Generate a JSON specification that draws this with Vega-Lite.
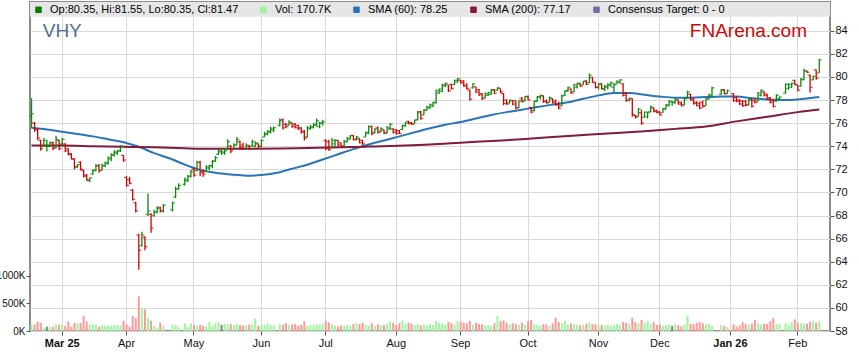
{
"$schema": "https://vega.github.io/schema/vega-lite/v6.json",
"width": 800, "height": 329,
"autosize": {"type": "none"},
"padding": {"left": 30, "top": 2, "right": 29, "bottom": 32},
"background": "#ffffff",
"config": {"font": "Liberation Sans", "view": {"stroke": "#8c8c8c", "strokeWidth": 2}, "axis": {"labelOverlap": false}},
"datasets": {
"px": [
{"d":"2025-02-17","o":76.6,"h":78.15,"l":75.55,"c":76.8,"v":115},
{"d":"2025-02-18","o":76.0,"h":76.1,"l":75.25,"c":75.4,"v":120},
{"d":"2025-02-19","o":75.5,"h":75.55,"l":74.55,"c":74.7,"v":170},
{"d":"2025-02-20","o":74.5,"h":74.55,"l":73.6,"c":73.8,"v":150},
{"d":"2025-02-21","o":74.0,"h":74.7,"l":73.95,"c":74.5,"v":65},
{"d":"2025-02-24","o":74.0,"h":74.55,"l":73.55,"c":74.0,"v":78},
{"d":"2025-02-25","o":74.0,"h":74.4,"l":73.9,"c":74.3,"v":78},
{"d":"2025-02-26","o":74.3,"h":74.4,"l":73.65,"c":73.8,"v":70},
{"d":"2025-02-27","o":73.9,"h":74.9,"l":73.8,"c":74.6,"v":115},
{"d":"2025-02-28","o":74.5,"h":74.55,"l":73.65,"c":73.8,"v":115},
{"d":"2025-03-03","o":74.2,"h":74.7,"l":74.1,"c":74.6,"v":115},
{"d":"2025-03-04","o":74.2,"h":74.25,"l":73.5,"c":73.6,"v":95},
{"d":"2025-03-05","o":73.8,"h":73.8,"l":73.2,"c":73.3,"v":170},
{"d":"2025-03-06","o":73.35,"h":73.4,"l":72.85,"c":72.9,"v":75},
{"d":"2025-03-07","o":72.9,"h":72.95,"l":72.0,"c":72.2,"v":140},
{"d":"2025-03-10","o":72.2,"h":72.45,"l":72.15,"c":72.4,"v":140},
{"d":"2025-03-11","o":72.6,"h":72.7,"l":71.9,"c":72.0,"v":145},
{"d":"2025-03-12","o":71.9,"h":71.95,"l":71.3,"c":71.4,"v":275},
{"d":"2025-03-13","o":71.5,"h":71.6,"l":71.0,"c":71.1,"v":170},
{"d":"2025-03-14","o":71.0,"h":71.3,"l":70.9,"c":71.25,"v":120},
{"d":"2025-03-17","o":71.6,"h":72.0,"l":71.5,"c":71.9,"v":115},
{"d":"2025-03-18","o":71.9,"h":72.45,"l":71.8,"c":72.3,"v":110},
{"d":"2025-03-19","o":72.3,"h":72.45,"l":71.7,"c":71.9,"v":78},
{"d":"2025-03-20","o":71.9,"h":72.5,"l":71.9,"c":72.3,"v":100},
{"d":"2025-03-21","o":72.3,"h":72.65,"l":72.2,"c":72.6,"v":90},
{"d":"2025-03-24","o":72.5,"h":73.1,"l":72.4,"c":73.0,"v":100},
{"d":"2025-03-25","o":72.9,"h":73.4,"l":72.7,"c":73.3,"v":100},
{"d":"2025-03-26","o":73.2,"h":73.65,"l":73.1,"c":73.5,"v":105},
{"d":"2025-03-27","o":73.4,"h":73.65,"l":73.25,"c":73.6,"v":110},
{"d":"2025-03-28","o":73.6,"h":74.1,"l":73.5,"c":74.0,"v":100},
{"d":"2025-03-31","o":73.2,"h":73.25,"l":72.65,"c":72.8,"v":185},
{"d":"2025-04-01","o":71.3,"h":71.4,"l":70.5,"c":70.6,"v":120},
{"d":"2025-04-02","o":71.1,"h":71.35,"l":70.7,"c":70.8,"v":80},
{"d":"2025-04-03","o":70.2,"h":70.3,"l":69.3,"c":69.4,"v":275},
{"d":"2025-04-04","o":69.1,"h":69.2,"l":68.25,"c":68.4,"v":230},
{"d":"2025-04-07","o":66.3,"h":66.45,"l":63.3,"c":65.0,"v":625},
{"d":"2025-04-08","o":65.4,"h":66.6,"l":65.3,"c":66.3,"v":420},
{"d":"2025-04-09","o":66.1,"h":66.2,"l":65.0,"c":65.3,"v":390},
{"d":"2025-04-10","o":68.1,"h":69.9,"l":67.95,"c":68.4,"v":230},
{"d":"2025-04-11","o":68.1,"h":68.2,"l":66.5,"c":66.9,"v":185},
{"d":"2025-04-14","o":68.0,"h":68.5,"l":67.9,"c":68.3,"v":95},
{"d":"2025-04-15","o":68.3,"h":68.8,"l":68.2,"c":68.6,"v":65},
{"d":"2025-04-16","o":68.7,"h":68.75,"l":68.25,"c":68.4,"v":150},
{"d":"2025-04-17","o":68.4,"h":69.0,"l":68.25,"c":68.9,"v":95},
{"d":"2025-04-22","o":68.5,"h":69.2,"l":68.35,"c":69.1,"v":115},
{"d":"2025-04-23","o":69.6,"h":70.5,"l":69.5,"c":70.3,"v":105},
{"d":"2025-04-24","o":70.3,"h":70.8,"l":70.25,"c":70.6,"v":70},
{"d":"2025-04-28","o":70.7,"h":71.3,"l":70.6,"c":71.1,"v":140},
{"d":"2025-04-29","o":71.0,"h":71.5,"l":70.9,"c":71.4,"v":70},
{"d":"2025-04-30","o":71.4,"h":71.95,"l":71.3,"c":71.8,"v":130},
{"d":"2025-05-01","o":72.0,"h":72.15,"l":71.35,"c":71.5,"v":110},
{"d":"2025-05-02","o":71.9,"h":72.75,"l":71.8,"c":72.6,"v":100},
{"d":"2025-05-05","o":72.6,"h":72.75,"l":71.4,"c":71.7,"v":110},
{"d":"2025-05-06","o":71.8,"h":72.0,"l":71.35,"c":71.6,"v":90},
{"d":"2025-05-07","o":71.8,"h":72.35,"l":71.8,"c":72.2,"v":85},
{"d":"2025-05-08","o":72.1,"h":72.4,"l":71.95,"c":72.3,"v":160},
{"d":"2025-05-09","o":72.3,"h":72.8,"l":72.1,"c":72.7,"v":90},
{"d":"2025-05-12","o":72.7,"h":73.15,"l":72.65,"c":73.0,"v":140},
{"d":"2025-05-13","o":73.3,"h":73.75,"l":73.25,"c":73.6,"v":160},
{"d":"2025-05-14","o":73.5,"h":73.7,"l":73.25,"c":73.5,"v":110},
{"d":"2025-05-15","o":73.4,"h":73.75,"l":73.25,"c":73.6,"v":130},
{"d":"2025-05-16","o":73.8,"h":74.6,"l":73.8,"c":74.4,"v":120},
{"d":"2025-05-19","o":74.0,"h":74.1,"l":73.4,"c":73.6,"v":125},
{"d":"2025-05-20","o":73.8,"h":74.25,"l":73.8,"c":74.1,"v":110},
{"d":"2025-05-21","o":74.1,"h":74.8,"l":74.1,"c":74.6,"v":125},
{"d":"2025-05-22","o":74.4,"h":74.5,"l":73.7,"c":73.9,"v":110},
{"d":"2025-05-23","o":74.1,"h":74.3,"l":73.7,"c":73.8,"v":95},
{"d":"2025-05-26","o":73.8,"h":74.25,"l":73.7,"c":74.1,"v":100},
{"d":"2025-05-27","o":74.0,"h":74.1,"l":73.7,"c":73.8,"v":115},
{"d":"2025-05-28","o":74.0,"h":74.55,"l":73.95,"c":74.4,"v":120},
{"d":"2025-05-29","o":74.0,"h":74.4,"l":73.9,"c":74.3,"v":225},
{"d":"2025-05-30","o":74.2,"h":74.25,"l":73.8,"c":74.0,"v":95},
{"d":"2025-06-02","o":74.0,"h":74.6,"l":73.9,"c":74.5,"v":110},
{"d":"2025-06-03","o":74.8,"h":75.25,"l":74.8,"c":75.1,"v":110},
{"d":"2025-06-04","o":75.0,"h":75.4,"l":74.95,"c":75.3,"v":140},
{"d":"2025-06-05","o":75.2,"h":75.7,"l":75.1,"c":75.5,"v":110},
{"d":"2025-06-06","o":75.4,"h":75.7,"l":75.2,"c":75.6,"v":100},
{"d":"2025-06-10","o":75.8,"h":76.4,"l":75.7,"c":76.2,"v":120},
{"d":"2025-06-11","o":76.3,"h":76.4,"l":75.45,"c":75.6,"v":115},
{"d":"2025-06-12","o":75.9,"h":76.0,"l":75.55,"c":75.7,"v":140},
{"d":"2025-06-13","o":75.85,"h":76.25,"l":75.8,"c":76.1,"v":110},
{"d":"2025-06-16","o":76.0,"h":76.05,"l":75.6,"c":75.7,"v":120},
{"d":"2025-06-17","o":75.9,"h":76.0,"l":75.55,"c":75.6,"v":125},
{"d":"2025-06-18","o":75.8,"h":75.85,"l":75.4,"c":75.5,"v":100},
{"d":"2025-06-19","o":75.6,"h":75.65,"l":75.1,"c":75.2,"v":110},
{"d":"2025-06-20","o":75.3,"h":75.4,"l":74.5,"c":74.7,"v":175},
{"d":"2025-06-23","o":74.8,"h":75.75,"l":74.75,"c":75.6,"v":90},
{"d":"2025-06-24","o":75.5,"h":75.85,"l":75.45,"c":75.7,"v":110},
{"d":"2025-06-25","o":75.6,"h":76.0,"l":75.55,"c":75.9,"v":100},
{"d":"2025-06-26","o":75.8,"h":76.4,"l":75.7,"c":76.2,"v":120},
{"d":"2025-06-27","o":75.7,"h":76.1,"l":75.55,"c":76.0,"v":115},
{"d":"2025-06-30","o":76.0,"h":76.3,"l":75.8,"c":76.1,"v":130},
{"d":"2025-07-01","o":74.5,"h":74.6,"l":73.65,"c":73.8,"v":185},
{"d":"2025-07-02","o":74.4,"h":74.55,"l":73.6,"c":73.7,"v":150},
{"d":"2025-07-03","o":73.9,"h":74.7,"l":73.9,"c":74.5,"v":120},
{"d":"2025-07-04","o":74.2,"h":74.6,"l":74.0,"c":74.5,"v":95},
{"d":"2025-07-07","o":74.5,"h":74.55,"l":74.0,"c":74.1,"v":80},
{"d":"2025-07-08","o":74.3,"h":74.3,"l":73.9,"c":74.0,"v":100},
{"d":"2025-07-09","o":74.0,"h":74.55,"l":73.95,"c":74.4,"v":90},
{"d":"2025-07-10","o":74.4,"h":74.8,"l":74.35,"c":74.7,"v":110},
{"d":"2025-07-11","o":74.6,"h":74.95,"l":74.6,"c":74.9,"v":95},
{"d":"2025-07-14","o":74.95,"h":74.97,"l":74.5,"c":74.6,"v":130},
{"d":"2025-07-15","o":74.55,"h":74.9,"l":74.5,"c":74.8,"v":140},
{"d":"2025-07-16","o":74.65,"h":74.7,"l":74.25,"c":74.3,"v":125},
{"d":"2025-07-17","o":74.5,"h":74.55,"l":74.1,"c":74.2,"v":150},
{"d":"2025-07-18","o":74.8,"h":75.25,"l":74.8,"c":75.2,"v":110},
{"d":"2025-07-21","o":75.1,"h":75.8,"l":75.05,"c":75.7,"v":100},
{"d":"2025-07-22","o":75.7,"h":75.8,"l":74.95,"c":75.1,"v":140},
{"d":"2025-07-23","o":75.2,"h":75.55,"l":75.1,"c":75.5,"v":95},
{"d":"2025-07-24","o":75.6,"h":75.7,"l":75.1,"c":75.2,"v":120},
{"d":"2025-07-25","o":75.3,"h":75.65,"l":75.2,"c":75.5,"v":100},
{"d":"2025-07-28","o":75.4,"h":75.45,"l":75.05,"c":75.1,"v":105},
{"d":"2025-07-29","o":75.2,"h":75.75,"l":75.1,"c":75.6,"v":130},
{"d":"2025-07-30","o":75.5,"h":76.0,"l":75.4,"c":75.9,"v":175},
{"d":"2025-07-31","o":75.5,"h":75.55,"l":75.1,"c":75.2,"v":150},
{"d":"2025-08-01","o":75.4,"h":75.5,"l":75.0,"c":75.1,"v":110},
{"d":"2025-08-04","o":75.35,"h":75.4,"l":75.05,"c":75.1,"v":140},
{"d":"2025-08-05","o":75.45,"h":75.85,"l":75.4,"c":75.8,"v":190},
{"d":"2025-08-06","o":75.75,"h":76.1,"l":75.7,"c":76.0,"v":120},
{"d":"2025-08-07","o":76.15,"h":76.2,"l":75.9,"c":75.95,"v":150},
{"d":"2025-08-08","o":76.05,"h":76.1,"l":75.85,"c":75.9,"v":130},
{"d":"2025-08-11","o":75.95,"h":76.3,"l":75.95,"c":76.25,"v":110},
{"d":"2025-08-12","o":76.3,"h":77.05,"l":76.25,"c":76.9,"v":125},
{"d":"2025-08-13","o":77.0,"h":77.05,"l":76.3,"c":76.4,"v":100},
{"d":"2025-08-14","o":76.7,"h":77.2,"l":76.7,"c":77.1,"v":115},
{"d":"2025-08-15","o":77.15,"h":77.5,"l":77.1,"c":77.4,"v":95},
{"d":"2025-08-18","o":77.3,"h":77.7,"l":77.25,"c":77.6,"v":120},
{"d":"2025-08-19","o":77.45,"h":77.85,"l":77.4,"c":77.8,"v":110},
{"d":"2025-08-20","o":77.75,"h":78.9,"l":77.7,"c":78.8,"v":180},
{"d":"2025-08-21","o":78.6,"h":79.0,"l":78.55,"c":78.95,"v":150},
{"d":"2025-08-22","o":78.75,"h":79.4,"l":78.7,"c":79.3,"v":130},
{"d":"2025-08-25","o":79.2,"h":79.5,"l":79.15,"c":79.45,"v":120},
{"d":"2025-08-26","o":79.3,"h":79.3,"l":78.7,"c":78.8,"v":160},
{"d":"2025-08-27","o":79.35,"h":79.4,"l":78.9,"c":79.0,"v":140},
{"d":"2025-08-28","o":79.35,"h":79.75,"l":79.3,"c":79.7,"v":110},
{"d":"2025-08-29","o":79.55,"h":79.9,"l":79.5,"c":79.85,"v":180},
{"d":"2025-09-01","o":79.7,"h":79.75,"l":79.4,"c":79.5,"v":175},
{"d":"2025-09-02","o":79.65,"h":79.7,"l":79.15,"c":79.2,"v":150},
{"d":"2025-09-03","o":79.3,"h":79.45,"l":78.9,"c":79.0,"v":140},
{"d":"2025-09-04","o":78.85,"h":78.9,"l":77.95,"c":78.05,"v":180},
{"d":"2025-09-05","o":79.05,"h":79.45,"l":79.0,"c":79.4,"v":110},
{"d":"2025-09-08","o":79.15,"h":79.15,"l":78.6,"c":78.7,"v":150},
{"d":"2025-09-09","o":78.9,"h":78.95,"l":78.35,"c":78.45,"v":125},
{"d":"2025-09-10","o":78.55,"h":78.6,"l":78.0,"c":78.1,"v":120},
{"d":"2025-09-11","o":78.2,"h":78.65,"l":78.15,"c":78.55,"v":100},
{"d":"2025-09-12","o":78.4,"h":78.7,"l":78.35,"c":78.65,"v":110},
{"d":"2025-09-15","o":78.5,"h":78.95,"l":78.45,"c":78.85,"v":95},
{"d":"2025-09-16","o":78.9,"h":78.95,"l":78.5,"c":78.6,"v":140},
{"d":"2025-09-17","o":78.85,"h":79.1,"l":78.8,"c":79.05,"v":265},
{"d":"2025-09-18","o":79.0,"h":79.0,"l":78.6,"c":78.7,"v":175},
{"d":"2025-09-19","o":78.55,"h":78.6,"l":77.55,"c":77.7,"v":190},
{"d":"2025-09-22","o":78.0,"h":78.05,"l":77.6,"c":77.65,"v":150},
{"d":"2025-09-23","o":77.75,"h":78.05,"l":77.7,"c":77.95,"v":120},
{"d":"2025-09-24","o":77.95,"h":78.0,"l":77.55,"c":77.65,"v":140},
{"d":"2025-09-25","o":77.95,"h":77.95,"l":77.2,"c":77.3,"v":130},
{"d":"2025-09-26","o":77.35,"h":77.95,"l":77.3,"c":77.9,"v":110},
{"d":"2025-09-29","o":78.1,"h":78.25,"l":77.8,"c":77.85,"v":150},
{"d":"2025-09-30","o":77.95,"h":78.35,"l":77.9,"c":78.3,"v":115},
{"d":"2025-10-01","o":78.3,"h":78.4,"l":77.95,"c":78.0,"v":180},
{"d":"2025-10-02","o":77.35,"h":77.4,"l":76.85,"c":76.95,"v":200},
{"d":"2025-10-03","o":77.1,"h":77.95,"l":77.0,"c":77.9,"v":120},
{"d":"2025-10-06","o":77.9,"h":78.35,"l":77.85,"c":78.3,"v":110},
{"d":"2025-10-07","o":78.25,"h":78.45,"l":78.05,"c":78.4,"v":100},
{"d":"2025-10-08","o":78.35,"h":78.4,"l":77.75,"c":77.85,"v":125},
{"d":"2025-10-09","o":77.9,"h":78.05,"l":77.7,"c":77.75,"v":120},
{"d":"2025-10-10","o":77.8,"h":78.3,"l":77.8,"c":78.2,"v":95},
{"d":"2025-10-13","o":78.1,"h":78.15,"l":77.7,"c":77.75,"v":140},
{"d":"2025-10-14","o":77.9,"h":78.05,"l":77.55,"c":77.6,"v":240},
{"d":"2025-10-15","o":77.6,"h":77.85,"l":77.2,"c":77.3,"v":160},
{"d":"2025-10-16","o":77.5,"h":78.45,"l":77.45,"c":78.35,"v":140},
{"d":"2025-10-17","o":78.4,"h":78.85,"l":78.35,"c":78.8,"v":180},
{"d":"2025-10-20","o":78.8,"h":79.15,"l":78.7,"c":79.1,"v":110},
{"d":"2025-10-21","o":78.95,"h":79.0,"l":78.55,"c":78.6,"v":130},
{"d":"2025-10-22","o":78.7,"h":79.4,"l":78.7,"c":79.3,"v":120},
{"d":"2025-10-23","o":79.1,"h":79.5,"l":79.0,"c":79.45,"v":110},
{"d":"2025-10-24","o":79.4,"h":79.5,"l":79.15,"c":79.2,"v":100},
{"d":"2025-10-27","o":79.3,"h":79.65,"l":79.3,"c":79.6,"v":115},
{"d":"2025-10-28","o":79.65,"h":79.7,"l":79.3,"c":79.35,"v":130},
{"d":"2025-10-29","o":79.5,"h":80.3,"l":79.45,"c":80.15,"v":150},
{"d":"2025-10-30","o":79.95,"h":80.0,"l":79.5,"c":79.55,"v":125},
{"d":"2025-10-31","o":79.5,"h":79.55,"l":79.0,"c":79.1,"v":120},
{"d":"2025-11-03","o":79.1,"h":79.45,"l":78.9,"c":79.35,"v":120},
{"d":"2025-11-04","o":79.4,"h":79.45,"l":78.9,"c":79.0,"v":110},
{"d":"2025-11-05","o":78.95,"h":79.3,"l":78.75,"c":79.2,"v":100},
{"d":"2025-11-06","o":79.1,"h":79.45,"l":78.9,"c":79.35,"v":115},
{"d":"2025-11-07","o":79.25,"h":79.6,"l":79.15,"c":79.5,"v":95},
{"d":"2025-11-10","o":79.1,"h":79.45,"l":78.6,"c":79.3,"v":105},
{"d":"2025-11-11","o":79.4,"h":79.7,"l":79.4,"c":79.6,"v":125},
{"d":"2025-11-12","o":79.5,"h":79.8,"l":79.45,"c":79.75,"v":110},
{"d":"2025-11-13","o":79.4,"h":79.45,"l":78.3,"c":78.4,"v":160},
{"d":"2025-11-14","o":78.6,"h":78.7,"l":77.85,"c":77.95,"v":150},
{"d":"2025-11-17","o":78.0,"h":78.2,"l":77.9,"c":78.15,"v":130},
{"d":"2025-11-18","o":78.1,"h":78.15,"l":76.55,"c":76.7,"v":240},
{"d":"2025-11-19","o":76.7,"h":76.7,"l":76.4,"c":76.5,"v":160},
{"d":"2025-11-20","o":76.6,"h":77.3,"l":76.55,"c":77.2,"v":140},
{"d":"2025-11-21","o":76.9,"h":77.15,"l":75.85,"c":76.0,"v":200},
{"d":"2025-11-24","o":76.5,"h":77.0,"l":76.5,"c":76.95,"v":150},
{"d":"2025-11-25","o":76.55,"h":77.0,"l":76.4,"c":76.9,"v":175},
{"d":"2025-11-26","o":77.0,"h":77.5,"l":76.95,"c":77.4,"v":120},
{"d":"2025-11-27","o":77.3,"h":77.35,"l":76.95,"c":77.0,"v":160},
{"d":"2025-11-28","o":77.1,"h":77.15,"l":76.85,"c":76.9,"v":110},
{"d":"2025-12-01","o":77.0,"h":77.0,"l":76.65,"c":76.7,"v":120},
{"d":"2025-12-02","o":76.9,"h":77.3,"l":76.9,"c":77.25,"v":95},
{"d":"2025-12-03","o":77.2,"h":77.65,"l":77.2,"c":77.6,"v":110},
{"d":"2025-12-04","o":77.5,"h":78.0,"l":77.45,"c":77.9,"v":120},
{"d":"2025-12-05","o":77.85,"h":77.9,"l":77.5,"c":77.85,"v":95},
{"d":"2025-12-08","o":77.75,"h":78.15,"l":77.7,"c":78.1,"v":125},
{"d":"2025-12-09","o":78.0,"h":78.05,"l":77.6,"c":77.65,"v":105},
{"d":"2025-12-10","o":77.8,"h":77.85,"l":77.45,"c":77.5,"v":85},
{"d":"2025-12-11","o":77.6,"h":78.2,"l":77.55,"c":78.1,"v":115},
{"d":"2025-12-12","o":78.2,"h":78.8,"l":78.15,"c":78.7,"v":276},
{"d":"2025-12-15","o":78.5,"h":78.55,"l":77.95,"c":78.0,"v":130},
{"d":"2025-12-16","o":78.1,"h":78.15,"l":77.6,"c":77.7,"v":120},
{"d":"2025-12-17","o":77.8,"h":77.9,"l":77.45,"c":77.5,"v":150},
{"d":"2025-12-18","o":77.7,"h":77.85,"l":77.2,"c":77.3,"v":165},
{"d":"2025-12-19","o":77.8,"h":77.95,"l":77.35,"c":77.45,"v":140},
{"d":"2025-12-22","o":77.5,"h":78.15,"l":77.5,"c":78.1,"v":120},
{"d":"2025-12-23","o":78.1,"h":78.55,"l":78.05,"c":78.45,"v":125},
{"d":"2025-12-24","o":78.35,"h":79.15,"l":78.3,"c":79.05,"v":85},
{"d":"2025-12-29","o":78.5,"h":78.95,"l":78.45,"c":78.85,"v":105},
{"d":"2025-12-30","o":78.9,"h":78.95,"l":78.5,"c":78.55,"v":90},
{"d":"2025-12-31","o":78.55,"h":78.9,"l":78.55,"c":78.8,"v":70},
{"d":"2026-01-02","o":78.55,"h":78.6,"l":77.85,"c":77.95,"v":120},
{"d":"2026-01-05","o":78.2,"h":78.35,"l":77.8,"c":77.9,"v":80},
{"d":"2026-01-06","o":78.0,"h":78.1,"l":77.55,"c":77.65,"v":100},
{"d":"2026-01-07","o":77.9,"h":78.0,"l":77.4,"c":77.5,"v":160},
{"d":"2026-01-08","o":77.9,"h":78.0,"l":77.45,"c":77.55,"v":130},
{"d":"2026-01-09","o":77.6,"h":78.15,"l":77.55,"c":78.05,"v":110},
{"d":"2026-01-12","o":78.0,"h":78.15,"l":77.35,"c":77.45,"v":130},
{"d":"2026-01-13","o":77.95,"h":78.15,"l":77.7,"c":77.8,"v":200},
{"d":"2026-01-14","o":77.9,"h":78.7,"l":77.85,"c":78.6,"v":140},
{"d":"2026-01-15","o":78.4,"h":78.9,"l":78.3,"c":78.85,"v":110},
{"d":"2026-01-16","o":78.7,"h":78.75,"l":78.3,"c":78.4,"v":130},
{"d":"2026-01-19","o":78.5,"h":78.55,"l":78.0,"c":78.1,"v":125},
{"d":"2026-01-20","o":78.2,"h":78.25,"l":77.7,"c":77.8,"v":175},
{"d":"2026-01-21","o":78.0,"h":78.05,"l":77.35,"c":77.45,"v":230},
{"d":"2026-01-22","o":77.9,"h":78.5,"l":77.85,"c":78.4,"v":120},
{"d":"2026-01-23","o":78.1,"h":78.3,"l":78.0,"c":78.25,"v":130},
{"d":"2026-01-27","o":78.6,"h":79.45,"l":78.55,"c":79.35,"v":140},
{"d":"2026-01-28","o":79.0,"h":79.45,"l":78.9,"c":79.35,"v":110},
{"d":"2026-01-29","o":79.1,"h":79.5,"l":79.05,"c":79.45,"v":160},
{"d":"2026-01-30","o":79.7,"h":79.75,"l":79.3,"c":79.35,"v":210},
{"d":"2026-02-02","o":79.3,"h":79.3,"l":78.75,"c":78.85,"v":150},
{"d":"2026-02-03","o":79.2,"h":79.9,"l":79.15,"c":79.8,"v":140},
{"d":"2026-02-04","o":79.75,"h":80.7,"l":79.7,"c":80.55,"v":130},
{"d":"2026-02-05","o":80.5,"h":80.55,"l":80.35,"c":80.4,"v":130},
{"d":"2026-02-06","o":80.15,"h":80.2,"l":78.65,"c":79.1,"v":170},
{"d":"2026-02-09","o":79.75,"h":80.1,"l":79.7,"c":80.05,"v":180},
{"d":"2026-02-10","o":80.6,"h":80.65,"l":79.75,"c":79.9,"v":150},
{"d":"2026-02-11","o":80.35,"h":81.55,"l":80.35,"c":81.47,"v":171}
],
"sma": [
{"d":"2025-02-17","s":"SMA (60): 78.25","m":75.6},{"d":"2025-02-24","s":"SMA (60): 78.25","m":75.45},{"d":"2025-03-03","s":"SMA (60): 78.25","m":75.25},{"d":"2025-03-10","s":"SMA (60): 78.25","m":75.05},{"d":"2025-03-17","s":"SMA (60): 78.25","m":74.85},{"d":"2025-03-24","s":"SMA (60): 78.25","m":74.6},{"d":"2025-03-31","s":"SMA (60): 78.25","m":74.35},{"d":"2025-04-07","s":"SMA (60): 78.25","m":73.95},{"d":"2025-04-14","s":"SMA (60): 78.25","m":73.4},{"d":"2025-04-22","s":"SMA (60): 78.25","m":72.85},{"d":"2025-04-28","s":"SMA (60): 78.25","m":72.4},{"d":"2025-05-05","s":"SMA (60): 78.25","m":71.95},{"d":"2025-05-12","s":"SMA (60): 78.25","m":71.7},{"d":"2025-05-19","s":"SMA (60): 78.25","m":71.55},{"d":"2025-05-26","s":"SMA (60): 78.25","m":71.45},{"d":"2025-06-02","s":"SMA (60): 78.25","m":71.5},{"d":"2025-06-10","s":"SMA (60): 78.25","m":71.75},{"d":"2025-06-16","s":"SMA (60): 78.25","m":72.05},{"d":"2025-06-23","s":"SMA (60): 78.25","m":72.4},{"d":"2025-06-30","s":"SMA (60): 78.25","m":72.85},{"d":"2025-07-07","s":"SMA (60): 78.25","m":73.3},{"d":"2025-07-14","s":"SMA (60): 78.25","m":73.75},{"d":"2025-07-21","s":"SMA (60): 78.25","m":74.15},{"d":"2025-07-28","s":"SMA (60): 78.25","m":74.5},{"d":"2025-08-04","s":"SMA (60): 78.25","m":74.85},{"d":"2025-08-11","s":"SMA (60): 78.25","m":75.2},{"d":"2025-08-18","s":"SMA (60): 78.25","m":75.55},{"d":"2025-08-25","s":"SMA (60): 78.25","m":75.85},{"d":"2025-09-01","s":"SMA (60): 78.25","m":76.1},{"d":"2025-09-08","s":"SMA (60): 78.25","m":76.4},{"d":"2025-09-15","s":"SMA (60): 78.25","m":76.7},{"d":"2025-09-22","s":"SMA (60): 78.25","m":76.95},{"d":"2025-09-29","s":"SMA (60): 78.25","m":77.15},{"d":"2025-10-06","s":"SMA (60): 78.25","m":77.4},{"d":"2025-10-13","s":"SMA (60): 78.25","m":77.6},{"d":"2025-10-20","s":"SMA (60): 78.25","m":77.8},{"d":"2025-10-27","s":"SMA (60): 78.25","m":78.1},{"d":"2025-11-03","s":"SMA (60): 78.25","m":78.4},{"d":"2025-11-10","s":"SMA (60): 78.25","m":78.6},{"d":"2025-11-17","s":"SMA (60): 78.25","m":78.6},{"d":"2025-11-24","s":"SMA (60): 78.25","m":78.45},{"d":"2025-12-01","s":"SMA (60): 78.25","m":78.3},{"d":"2025-12-08","s":"SMA (60): 78.25","m":78.2},{"d":"2025-12-15","s":"SMA (60): 78.25","m":78.2},{"d":"2025-12-22","s":"SMA (60): 78.25","m":78.25},{"d":"2025-12-29","s":"SMA (60): 78.25","m":78.3},{"d":"2026-01-05","s":"SMA (60): 78.25","m":78.3},{"d":"2026-01-12","s":"SMA (60): 78.25","m":78.15},{"d":"2026-01-19","s":"SMA (60): 78.25","m":78.05},{"d":"2026-01-27","s":"SMA (60): 78.25","m":78.0},{"d":"2026-02-02","s":"SMA (60): 78.25","m":78.05},{"d":"2026-02-11","s":"SMA (60): 78.25","m":78.25},
{"d":"2025-02-17","s":"SMA (200): 77.17","m":74.05},{"d":"2025-03-03","s":"SMA (200): 77.17","m":74.05},{"d":"2025-03-17","s":"SMA (200): 77.17","m":74.0},{"d":"2025-03-31","s":"SMA (200): 77.17","m":73.95},{"d":"2025-04-14","s":"SMA (200): 77.17","m":73.9},{"d":"2025-04-28","s":"SMA (200): 77.17","m":73.82},{"d":"2025-05-08","s":"SMA (200): 77.17","m":73.78},{"d":"2025-05-26","s":"SMA (200): 77.17","m":73.78},{"d":"2025-06-10","s":"SMA (200): 77.17","m":73.8},{"d":"2025-06-23","s":"SMA (200): 77.17","m":73.85},{"d":"2025-07-02","s":"SMA (200): 77.17","m":73.88},{"d":"2025-07-21","s":"SMA (200): 77.17","m":73.97},{"d":"2025-08-06","s":"SMA (200): 77.17","m":74.07},{"d":"2025-08-18","s":"SMA (200): 77.17","m":74.15},{"d":"2025-09-01","s":"SMA (200): 77.17","m":74.3},{"d":"2025-09-15","s":"SMA (200): 77.17","m":74.45},{"d":"2025-09-29","s":"SMA (200): 77.17","m":74.6},{"d":"2025-10-13","s":"SMA (200): 77.17","m":74.8},{"d":"2025-10-27","s":"SMA (200): 77.17","m":74.97},{"d":"2025-11-06","s":"SMA (200): 77.17","m":75.1},{"d":"2025-11-24","s":"SMA (200): 77.17","m":75.3},{"d":"2025-12-08","s":"SMA (200): 77.17","m":75.5},{"d":"2025-12-22","s":"SMA (200): 77.17","m":75.7},{"d":"2026-01-05","s":"SMA (200): 77.17","m":76.15},{"d":"2026-01-19","s":"SMA (200): 77.17","m":76.55},{"d":"2026-02-02","s":"SMA (200): 77.17","m":76.95},{"d":"2026-02-11","s":"SMA (200): 77.17","m":77.17}
]
},
"resolve": {"scale": {"y": "independent"}, "axis": {"y": "independent"}},
"layer": [
{
"data": {"name": "px"},
"mark": {"type": "bar", "width": {"band": 0.65}},
"encoding": {
"x": {"field": "d", "type": "ordinal",
 "scale": {"type": "band", "paddingInner": 0, "paddingOuter": 0,
 "domain": ["2025-02-17","2025-02-18","2025-02-19","2025-02-20","2025-02-21","2025-02-24","2025-02-25","2025-02-26","2025-02-27","2025-02-28","2025-03-03","2025-03-04","2025-03-05","2025-03-06","2025-03-07","2025-03-10","2025-03-11","2025-03-12","2025-03-13","2025-03-14","2025-03-17","2025-03-18","2025-03-19","2025-03-20","2025-03-21","2025-03-24","2025-03-25","2025-03-26","2025-03-27","2025-03-28","2025-03-31","2025-04-01","2025-04-02","2025-04-03","2025-04-04","2025-04-07","2025-04-08","2025-04-09","2025-04-10","2025-04-11","2025-04-14","2025-04-15","2025-04-16","2025-04-17","2025-04-18","2025-04-21","2025-04-22","2025-04-23","2025-04-24","2025-04-25","2025-04-28","2025-04-29","2025-04-30","2025-05-01","2025-05-02","2025-05-05","2025-05-06","2025-05-07","2025-05-08","2025-05-09","2025-05-12","2025-05-13","2025-05-14","2025-05-15","2025-05-16","2025-05-19","2025-05-20","2025-05-21","2025-05-22","2025-05-23","2025-05-26","2025-05-27","2025-05-28","2025-05-29","2025-05-30","2025-06-02","2025-06-03","2025-06-04","2025-06-05","2025-06-06","2025-06-09","2025-06-10","2025-06-11","2025-06-12","2025-06-13","2025-06-16","2025-06-17","2025-06-18","2025-06-19","2025-06-20","2025-06-23","2025-06-24","2025-06-25","2025-06-26","2025-06-27","2025-06-30","2025-07-01","2025-07-02","2025-07-03","2025-07-04","2025-07-07","2025-07-08","2025-07-09","2025-07-10","2025-07-11","2025-07-14","2025-07-15","2025-07-16","2025-07-17","2025-07-18","2025-07-21","2025-07-22","2025-07-23","2025-07-24","2025-07-25","2025-07-28","2025-07-29","2025-07-30","2025-07-31","2025-08-01","2025-08-04","2025-08-05","2025-08-06","2025-08-07","2025-08-08","2025-08-11","2025-08-12","2025-08-13","2025-08-14","2025-08-15","2025-08-18","2025-08-19","2025-08-20","2025-08-21","2025-08-22","2025-08-25","2025-08-26","2025-08-27","2025-08-28","2025-08-29","2025-09-01","2025-09-02","2025-09-03","2025-09-04","2025-09-05","2025-09-08","2025-09-09","2025-09-10","2025-09-11","2025-09-12","2025-09-15","2025-09-16","2025-09-17","2025-09-18","2025-09-19","2025-09-22","2025-09-23","2025-09-24","2025-09-25","2025-09-26","2025-09-29","2025-09-30","2025-10-01","2025-10-02","2025-10-03","2025-10-06","2025-10-07","2025-10-08","2025-10-09","2025-10-10","2025-10-13","2025-10-14","2025-10-15","2025-10-16","2025-10-17","2025-10-20","2025-10-21","2025-10-22","2025-10-23","2025-10-24","2025-10-27","2025-10-28","2025-10-29","2025-10-30","2025-10-31","2025-11-03","2025-11-04","2025-11-05","2025-11-06","2025-11-07","2025-11-10","2025-11-11","2025-11-12","2025-11-13","2025-11-14","2025-11-17","2025-11-18","2025-11-19","2025-11-20","2025-11-21","2025-11-24","2025-11-25","2025-11-26","2025-11-27","2025-11-28","2025-12-01","2025-12-02","2025-12-03","2025-12-04","2025-12-05","2025-12-08","2025-12-09","2025-12-10","2025-12-11","2025-12-12","2025-12-15","2025-12-16","2025-12-17","2025-12-18","2025-12-19","2025-12-22","2025-12-23","2025-12-24","2025-12-25","2025-12-26","2025-12-29","2025-12-30","2025-12-31","2026-01-01","2026-01-02","2026-01-05","2026-01-06","2026-01-07","2026-01-08","2026-01-09","2026-01-12","2026-01-13","2026-01-14","2026-01-15","2026-01-16","2026-01-19","2026-01-20","2026-01-21","2026-01-22","2026-01-23","2026-01-26","2026-01-27","2026-01-28","2026-01-29","2026-01-30","2026-02-02","2026-02-03","2026-02-04","2026-02-05","2026-02-06","2026-02-09","2026-02-10","2026-02-11","2026-02-12","2026-02-13","2026-02-16"]},
 "axis": {"title": null, "values": ["2025-03-03","2025-04-01","2025-05-01","2025-06-02","2025-07-01","2025-08-01","2025-09-01","2025-10-01","2025-11-03","2025-12-01","2026-01-01","2026-02-02"],
  "labelExpr": "datum.value == '2025-03-03' ? 'Mar 25' : datum.value == '2026-01-01' ? 'Jan 26' : utcFormat(toDate(datum.value), '%b')",
  "labelFontWeight": {"condition": {"test": "datum.value == '2025-03-03' || datum.value == '2026-01-01'", "value": "bold"}, "value": "normal"},
  "labelAngle": 0, "labelOverlap": false, "labelFontSize": 11, "labelColor": "#111111", "labelPadding": 2,
  "bandPosition": 0.5, "grid": true, "gridColor": "#d9d9d9", "gridWidth": 1, "domain": false,
  "ticks": true, "tickSize": 4, "tickColor": "#555555"}},
"y": {"field": "v", "type": "quantitative", "scale": {"domain": [0, 5939], "nice": false, "zero": true},
 "axis": {"orient": "left", "title": null, "values": [0, 500, 1000], "labelExpr": "datum.value + 'K'", "grid": false, "domain": false,
  "labelOverlap": false, "tickSize": 4, "tickColor": "#555555", "labelFontSize": 10, "labelColor": "#111111", "labelPadding": 1}},
"color": {"condition": [{"test": "datum.c > datum.o", "value": "#9bf79b"}, {"test": "datum.c < datum.o", "value": "#fc9898"}], "value": "#808080"}
}
},
{
"layer": [
{
"data": {"values": [{}]},
"mark": {"type": "rect", "color": "#e6e6e6"},
"encoding": {"y": {"datum": 86.485, "type": "quantitative", "axis": {"orient": "right", "title": null, "values": [58,60,62,64,66,68,70,72,74,76,78,80,82,84], "grid": true, "gridColor": "#d9d9d9", "gridWidth": 1, "labelOverlap": false, "domain": false, "tickSize": 4, "tickColor": "#555555", "labelFontSize": 11, "labelColor": "#111111", "labelPadding": 1}}, "y2": {"datum": 85.21}}
},
{
"data": {"name": "sma"},
"mark": {"type": "line", "strokeWidth": 2, "interpolate": "monotone"},
"encoding": {
"x": {"field": "d", "type": "ordinal"},
"y": {"field": "m", "type": "quantitative", "axis": {"orient": "right", "title": null, "values": [58,60,62,64,66,68,70,72,74,76,78,80,82,84], "grid": true, "gridColor": "#d9d9d9", "gridWidth": 1, "labelOverlap": false, "domain": false, "tickSize": 4, "tickColor": "#555555", "labelFontSize": 11, "labelColor": "#111111", "labelPadding": 1}},
"color": {"field": "s", "type": "nominal",
 "scale": {"domain": ["Op:80.35, Hi:81.55, Lo:80.35, Cl:81.47", "Vol: 170.7K", "SMA (60): 78.25", "SMA (200): 77.17", "Consensus Target: 0 - 0"],
  "range": ["#0a7a0a", "#9cf59c", "#2a74b8", "#821a3e", "#6e6ea0"]},
 "legend": {"orient": "none", "legendX": 3, "legendY": 2, "direction": "horizontal", "title": null,
  "symbolType": "square", "symbolSize": 30, "labelFontSize": 11, "labelFont": "Liberation Sans", "labelColor": "#000000",
  "labelLimit": 0, "columnPadding": 19, "labelOffset": 6,
  "encode": {"symbols": {"update": {"fill": {"scale": "color", "field": "value"}, "stroke": {"value": "#222222"}, "strokeWidth": {"value": 1}, "opacity": {"value": 1}}}}}}
}
},
{
"data": {"name": "px"},
"mark": {"type": "rule", "strokeWidth": 1.3},
"encoding": {
"x": {"field": "d", "type": "ordinal"},
"y": {"field": "h", "type": "quantitative", "scale": {"domain": [58, 86.485], "nice": false, "zero": false},
 "axis": {"orient": "right", "title": null, "values": [58,60,62,64,66,68,70,72,74,76,78,80,82,84], "grid": true, "gridColor": "#d9d9d9", "gridWidth": 1, "labelOverlap": false, "domain": false, "tickSize": 4, "tickColor": "#555555", "labelFontSize": 11, "labelColor": "#111111", "labelPadding": 1}},
"y2": {"field": "l"},
"color": {"condition": {"test": "datum.c >= datum.o", "value": "#0a8a0a"}, "value": "#d10000"}
}
},
{
"data": {"name": "px"},
"mark": {"type": "tick", "orient": "horizontal", "size": 2.5, "thickness": 1.3, "xOffset": -1.25},
"encoding": {
"x": {"field": "d", "type": "ordinal"},
"y": {"field": "o", "type": "quantitative", "axis": {"orient": "right", "title": null, "values": [58,60,62,64,66,68,70,72,74,76,78,80,82,84], "grid": true, "gridColor": "#d9d9d9", "gridWidth": 1, "labelOverlap": false, "domain": false, "tickSize": 4, "tickColor": "#555555", "labelFontSize": 11, "labelColor": "#111111", "labelPadding": 1}},
"color": {"condition": {"test": "datum.c >= datum.o", "value": "#0a8a0a"}, "value": "#d10000"}
}
},
{
"data": {"name": "px"},
"mark": {"type": "tick", "orient": "horizontal", "size": 2.5, "thickness": 1.3, "xOffset": 1.25},
"encoding": {
"x": {"field": "d", "type": "ordinal"},
"y": {"field": "c", "type": "quantitative", "axis": {"orient": "right", "title": null, "values": [58,60,62,64,66,68,70,72,74,76,78,80,82,84], "grid": true, "gridColor": "#d9d9d9", "gridWidth": 1, "labelOverlap": false, "domain": false, "tickSize": 4, "tickColor": "#555555", "labelFontSize": 11, "labelColor": "#111111", "labelPadding": 1}},
"color": {"condition": {"test": "datum.c >= datum.o", "value": "#0a8a0a"}, "value": "#d10000"}
}
},
{
"data": {"values": [{"t": "VHY"}]},
"mark": {"type": "text", "fontSize": 19, "color": "#4f6e8e", "align": "left", "baseline": "middle", "dx": 2},
"encoding": {"x": {"datum": "2025-02-20", "type": "ordinal"}, "y": {"datum": 84.0, "type": "quantitative", "axis": {"orient": "right", "title": null, "values": [58,60,62,64,66,68,70,72,74,76,78,80,82,84], "grid": true, "gridColor": "#d9d9d9", "gridWidth": 1, "labelOverlap": false, "domain": false, "tickSize": 4, "tickColor": "#555555", "labelFontSize": 11, "labelColor": "#111111", "labelPadding": 1}}, "text": {"field": "t"}}
},
{
"data": {"values": [{"t": "FNArena.com"}]},
"mark": {"type": "text", "fontSize": 19, "color": "#c80a0a", "align": "right", "baseline": "middle"},
"encoding": {"x": {"datum": "2026-02-05", "type": "ordinal"}, "y": {"datum": 83.95, "type": "quantitative", "axis": {"orient": "right", "title": null, "values": [58,60,62,64,66,68,70,72,74,76,78,80,82,84], "grid": true, "gridColor": "#d9d9d9", "gridWidth": 1, "labelOverlap": false, "domain": false, "tickSize": 4, "tickColor": "#555555", "labelFontSize": 11, "labelColor": "#111111", "labelPadding": 1}}, "text": {"field": "t"}}
}
]
}
]
}
